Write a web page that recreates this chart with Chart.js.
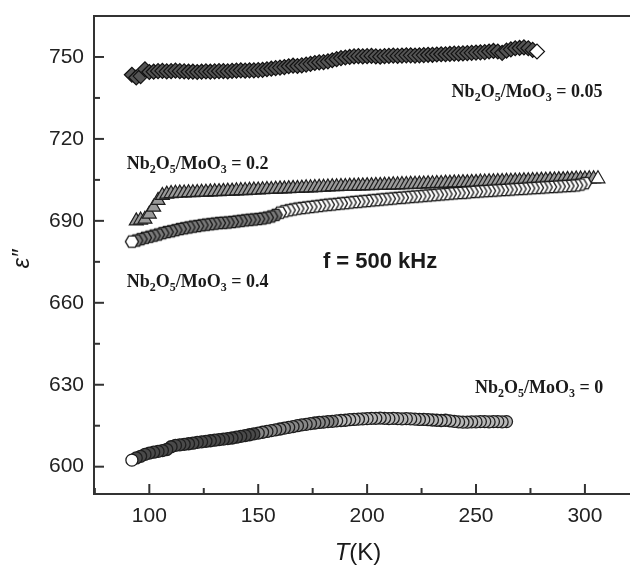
<!DOCTYPE html>
<html><head><meta charset="utf-8">
<script src="https://cdn.jsdelivr.net/npm/chart.js@4.4.1/dist/chart.umd.min.js"></script>
<style>html,body{margin:0;padding:0;background:#fff;}canvas{display:block;}</style>
</head><body>
<canvas id="c" width="630" height="572"></canvas>
<script>
// ---- data (T in K, epsilon'' values) ----
const T_005 = [92,94,96,98,100,102,104,106,108,110,112,114,116,118,120,122,124,126,128,130,
  132,134,136,138,140,142,144,146,148,150,152,154,156,158,160,162,164,166,168,170,
  172,174,176,178,180,182,184,186,188,190,192,194,196,198,200,202,204,206,208,210,
  212,214,216,218,220,222,224,226,228,230,232,234,236,238,240,242,244,246,248,250,
  252,254,256,258,260,262,264,266,268,270,272,274,276,278];
const E_005 = [743.5,742.5,743.0,745.5,744.5,744.6,744.8,744.9,744.7,744.8,
  745.0,744.8,744.7,744.6,744.6,744.5,744.6,744.7,744.6,744.7,
  744.8,744.8,744.7,744.9,745.0,745.1,745.0,745.1,745.1,745.2,
  745.3,745.5,745.7,745.9,746.1,746.3,746.6,746.8,746.7,746.9,
  747.2,747.5,747.8,748.0,748.1,748.4,748.8,749.2,749.6,749.8,
  750.0,750.2,750.3,750.2,750.3,750.4,750.2,750.1,750.3,750.4,
  750.5,750.4,750.5,750.6,750.6,750.5,750.6,750.7,750.8,750.8,
  750.9,751.0,751.0,751.1,751.2,751.2,751.3,751.4,751.5,751.6,
  751.7,751.8,752.0,752.2,752.0,751.5,752.3,752.8,753.2,753.3,
  753.5,753.2,752.6,752.0];

const T_02 = [94,96,98,100,102,104,106,108,110,112,114,116,118,120,122,124,126,128,130,132,
  134,136,138,140,142,144,146,148,150,152,154,156,158,160,162,164,166,168,170,172,
  174,176,178,180,182,184,186,188,190,192,194,196,198,200,202,204,206,208,210,212,
  214,216,218,220,222,224,226,228,230,232,234,236,238,240,242,244,246,248,250,252,
  254,256,258,260,262,264,266,268,270,272,274,276,278,280,282,284,286,288,290,292,
  294,296,298,300,302,304,306];
const E_02 = [690.0,690.3,690.6,692.5,695.0,697.5,699.3,699.8,700.0,700.1,
  700.2,700.2,700.3,700.3,700.4,700.5,700.5,700.6,700.7,700.7,
  700.8,700.9,700.9,701.0,701.1,701.1,701.2,701.3,701.3,701.4,
  701.5,701.5,701.6,701.7,701.7,701.8,701.9,701.9,702.0,702.1,
  702.1,702.2,702.3,702.3,702.4,702.5,702.5,702.6,702.6,702.7,
  702.7,702.8,702.8,702.9,702.9,703.0,703.0,703.1,703.1,703.2,
  703.2,703.3,703.3,703.4,703.4,703.5,703.5,703.6,703.6,703.7,
  703.7,703.8,703.8,703.9,703.9,704.0,704.0,704.1,704.1,704.2,
  704.2,704.3,704.3,704.4,704.4,704.5,704.5,704.6,704.6,704.7,
  704.7,704.8,704.8,704.9,704.9,705.0,705.0,705.1,705.1,705.2,
  705.2,705.3,705.3,705.3,705.4,705.4,705.4];

const T_04 = [92,94,96,98,100,102,104,106,108,110,112,114,116,118,120,122,124,126,128,130,
  132,134,136,138,140,142,144,146,148,150,152,154,156,158,160,162,164,166,168,170,
  172,174,176,178,180,182,184,186,188,190,192,194,196,198,200,202,204,206,208,210,
  212,214,216,218,220,222,224,226,228,230,232,234,236,238,240,242,244,246,248,250,
  252,254,256,258,260,262,264,266,268,270,272,274,276,278,280,282,284,286,288,290,
  292,294,296,298,300];
const E_04 = [682.4,682.8,683.3,683.8,684.2,684.6,685.0,685.5,685.9,686.2,
  686.6,687.0,687.3,687.6,687.9,688.1,688.4,688.6,688.8,689.0,
  689.2,689.3,689.4,689.6,689.8,690.0,690.2,690.4,690.5,690.7,
  690.9,691.2,691.6,692.2,693.0,693.5,693.9,694.2,694.5,694.7,
  694.9,695.1,695.3,695.5,695.7,695.9,696.0,696.2,696.4,696.5,
  696.7,696.9,697.0,697.2,697.3,697.5,697.6,697.8,697.9,698.1,
  698.2,698.4,698.5,698.6,698.8,698.9,699.0,699.2,699.3,699.4,
  699.6,699.7,699.8,700.0,700.1,700.2,700.3,700.4,700.6,700.7,
  700.8,700.9,701.0,701.1,701.2,701.3,701.4,701.5,701.6,701.7,
  701.8,701.9,702.0,702.1,702.2,702.3,702.4,702.5,702.6,702.7,
  702.8,702.9,703.0,703.3,703.8];

const T_0 = [92,94,96,98,100,102,104,106,108,110,112,114,116,118,120,122,124,126,128,130,
  132,134,136,138,140,142,144,146,148,150,152,154,156,158,160,162,164,166,168,170,
  172,174,176,178,180,182,184,186,188,190,192,194,196,198,200,202,204,206,208,210,
  212,214,216,218,220,222,224,226,228,230,232,234,236,238,240,242,244,246,248,250,
  252,254,256,258,260,262,264];
const E_0 = [602.4,603.2,603.8,604.5,605.0,605.3,605.6,605.9,606.3,607.3,
  607.8,608.0,608.2,608.4,608.6,608.9,609.1,609.3,609.5,609.7,
  609.9,610.1,610.3,610.5,610.8,611.1,611.4,611.7,612.0,612.3,
  612.6,612.9,613.2,613.5,613.8,614.1,614.4,614.7,615.0,615.3,
  615.5,615.8,616.0,616.2,616.3,616.5,616.6,616.8,616.9,617.0,
  617.2,617.3,617.4,617.5,617.6,617.7,617.7,617.8,617.7,617.6,
  617.7,617.6,617.5,617.6,617.5,617.4,617.3,617.3,617.2,617.1,
  617.0,616.9,617.0,616.8,616.6,616.4,616.3,616.3,616.4,616.4,
  616.5,616.5,616.4,616.5,616.5,616.4,616.5];

const SERIES_LABELS = ['0.05', '0.2', '0.4', '0'];
const X_MAJOR_TICKS = [100, 150, 200, 250, 300];
const Y_MAJOR_TICKS = [600, 630, 660, 690, 720, 750];
const FREQ_LABEL = 'f = 500 kHz';

// ---- presentation ----
const NOTE_POS = [
  {x: 238.8, y: 737.4},
  {x: 89.6, y: 711.2},
  {x: 89.6, y: 668.0},
  {x: 249.5, y: 629.2}
];
const FREQ_POS = {x: 179.7, y: 675.7};

const pts = (T, E) => T.map((t, i) => ({x: t, y: E[i]}));

function hexImg(fill) {
  const c = document.createElement('canvas');
  c.width = 16; c.height = 16;
  const g = c.getContext('2d');
  g.beginPath();
  for (let k = 0; k < 6; k++) {
    const a = k * Math.PI / 3;
    const px = 8 + 6.5 * Math.cos(a), py = 8 + 6.5 * Math.sin(a);
    if (k) g.lineTo(px, py); else g.moveTo(px, py);
  }
  g.closePath();
  g.fillStyle = fill; g.fill();
  g.strokeStyle = '#1a1a1a'; g.lineWidth = 1.4; g.stroke();
  return c;
}
const hexWhite = hexImg('#ffffff');
const hexGrey = hexImg('#7a7a7a');

const d005 = pts(T_005, E_005);
const c005 = d005.map((p, i) => i === d005.length - 1 ? '#ffffff' : '#555555');
const d02 = pts(T_02, E_02);
const c02 = d02.map((p, i) => i === d02.length - 1 ? '#ffffff' : '#9a9a9a');
const d04 = pts(T_04, E_04).reverse();
const s04 = d04.map((p, i) => i === d04.length - 1 ? hexWhite : (p.x < 160 ? hexGrey : hexWhite));
const d0 = pts(T_0, E_0).reverse();
const c0 = d0.map((p, i) => i === d0.length - 1 ? '#ffffff' : (p.x < 150 ? '#4a4a4a' : (p.x < 185 ? '#888888' : '#b8b8b8')));

function drawNb(ctx, x, y, suffix) {
  const parts = [['Nb', 0], ['2', 1], ['O', 0], ['5', 1], ['/MoO', 0], ['3', 1], [' = ' + suffix, 0]];
  const base = y + 6;
  let cx = x;
  ctx.textAlign = 'left';
  ctx.textBaseline = 'alphabetic';
  parts.forEach(([s, sub]) => {
    ctx.font = sub ? 'bold 12px "Liberation Serif", serif' : 'bold 18px "Liberation Serif", serif';
    ctx.fillText(s, cx, sub ? base + 4 : base);
    cx += ctx.measureText(s).width;
  });
}

const deco = {
  id: 'deco',
  afterDraw(chart) {
    const {ctx, chartArea: a, scales: {x, y}} = chart;
    ctx.save();
    ctx.strokeStyle = '#333'; ctx.lineWidth = 2;
    ctx.beginPath(); ctx.moveTo(a.left - 1, a.top); ctx.lineTo(chart.width, a.top); ctx.stroke();
    x.ticks.forEach(t => {
      const p = x.getPixelForValue(t.value);
      const L = X_MAJOR_TICKS.includes(t.value) ? 10 : 6;
      ctx.beginPath(); ctx.moveTo(p, a.bottom); ctx.lineTo(p, a.bottom - L); ctx.stroke();
    });
    y.ticks.forEach(t => {
      const p = y.getPixelForValue(t.value);
      const L = Y_MAJOR_TICKS.includes(t.value) ? 10 : 6;
      ctx.beginPath(); ctx.moveTo(a.left, p); ctx.lineTo(a.left + L, p); ctx.stroke();
    });
    ctx.fillStyle = '#1a1a1a';
    SERIES_LABELS.forEach((v, i) => {
      drawNb(ctx, x.getPixelForValue(NOTE_POS[i].x), y.getPixelForValue(NOTE_POS[i].y), v);
    });
    ctx.font = 'bold 22px "Liberation Sans", Arial, sans-serif';
    ctx.textBaseline = 'alphabetic';
    ctx.fillText(FREQ_LABEL, x.getPixelForValue(FREQ_POS.x), y.getPixelForValue(FREQ_POS.y) + 8);
    ctx.font = 'italic 24px "Liberation Sans", Arial, sans-serif';
    const wT = ctx.measureText('T').width;
    ctx.font = '24px "Liberation Sans", Arial, sans-serif';
    const wK = ctx.measureText('(K)').width;
    const cx = (a.left + a.right) / 2 - 4 - (wT + wK) / 2;
    ctx.font = 'italic 24px "Liberation Sans", Arial, sans-serif';
    ctx.fillText('T', cx, 560);
    ctx.font = '24px "Liberation Sans", Arial, sans-serif';
    ctx.fillText('(K)', cx + wT, 560);
    ctx.save();
    ctx.translate(22, (a.top + a.bottom) / 2 + 4);
    ctx.rotate(-Math.PI / 2);
    ctx.textAlign = 'center';
    ctx.textBaseline = 'middle';
    ctx.font = 'italic 24px "Liberation Sans", Arial, sans-serif';
    ctx.fillText('ε″', 0, 0);
    ctx.restore();
    ctx.restore();
  }
};

const tickFont = {family: '"Liberation Sans", Arial, sans-serif', size: 21};

new Chart(document.getElementById('c'), {
  type: 'scatter',
  data: {
    datasets: [
      {label: 'Nb2O5/MoO3 = 0.4', data: d04, pointStyle: s04, pointRadius: 7, showLine: false},
      {label: 'Nb2O5/MoO3 = 0.2', data: d02, pointStyle: 'triangle', pointRadius: 8,
        pointBackgroundColor: c02, pointBorderColor: '#1e1e1e', pointBorderWidth: 1.2, showLine: false},
      {label: 'Nb2O5/MoO3 = 0.05', data: d005, pointStyle: 'rectRot', pointRadius: 7.5,
        pointBackgroundColor: c005, pointBorderColor: '#111', pointBorderWidth: 1.2, showLine: false},
      {label: 'Nb2O5/MoO3 = 0', data: d0, pointStyle: 'circle', pointRadius: 6,
        pointBackgroundColor: c0, pointBorderColor: '#1e1e1e', pointBorderWidth: 1.3, showLine: false}
    ]
  },
  options: {
    responsive: false,
    animation: false,
    devicePixelRatio: 1,
    layout: {autoPadding: false, padding: {top: 16, right: 0, bottom: 0, left: 0}},
    plugins: {legend: {display: false}, tooltip: {enabled: false}},
    scales: {
      x: {
        type: 'linear', min: 74.6, max: 320.7,
        grid: {display: false, drawTicks: false},
        border: {display: true, width: 2, color: '#333'},
        ticks: {stepSize: 25, includeBounds: false, maxTicksLimit: 30, autoSkip: false, maxRotation: 0,
          padding: 10, color: '#222', font: tickFont,
          callback: v => X_MAJOR_TICKS.includes(v) ? String(v) : ''},
        afterFit: s => { s.height = 78; s.paddingLeft = 0; s.paddingRight = 0; }
      },
      y: {
        type: 'linear', min: 590, max: 765,
        grid: {display: false, drawTicks: false},
        border: {display: true, width: 2, color: '#333'},
        ticks: {stepSize: 15, includeBounds: false, maxTicksLimit: 30, autoSkip: false,
          padding: 10, color: '#222', font: tickFont,
          callback: v => Y_MAJOR_TICKS.includes(v) ? String(v) : ''},
        afterFit: s => { s.width = 94; s.paddingTop = 0; s.paddingBottom = 0; }
      }
    }
  },
  plugins: [deco]
});
</script>
</body></html>
